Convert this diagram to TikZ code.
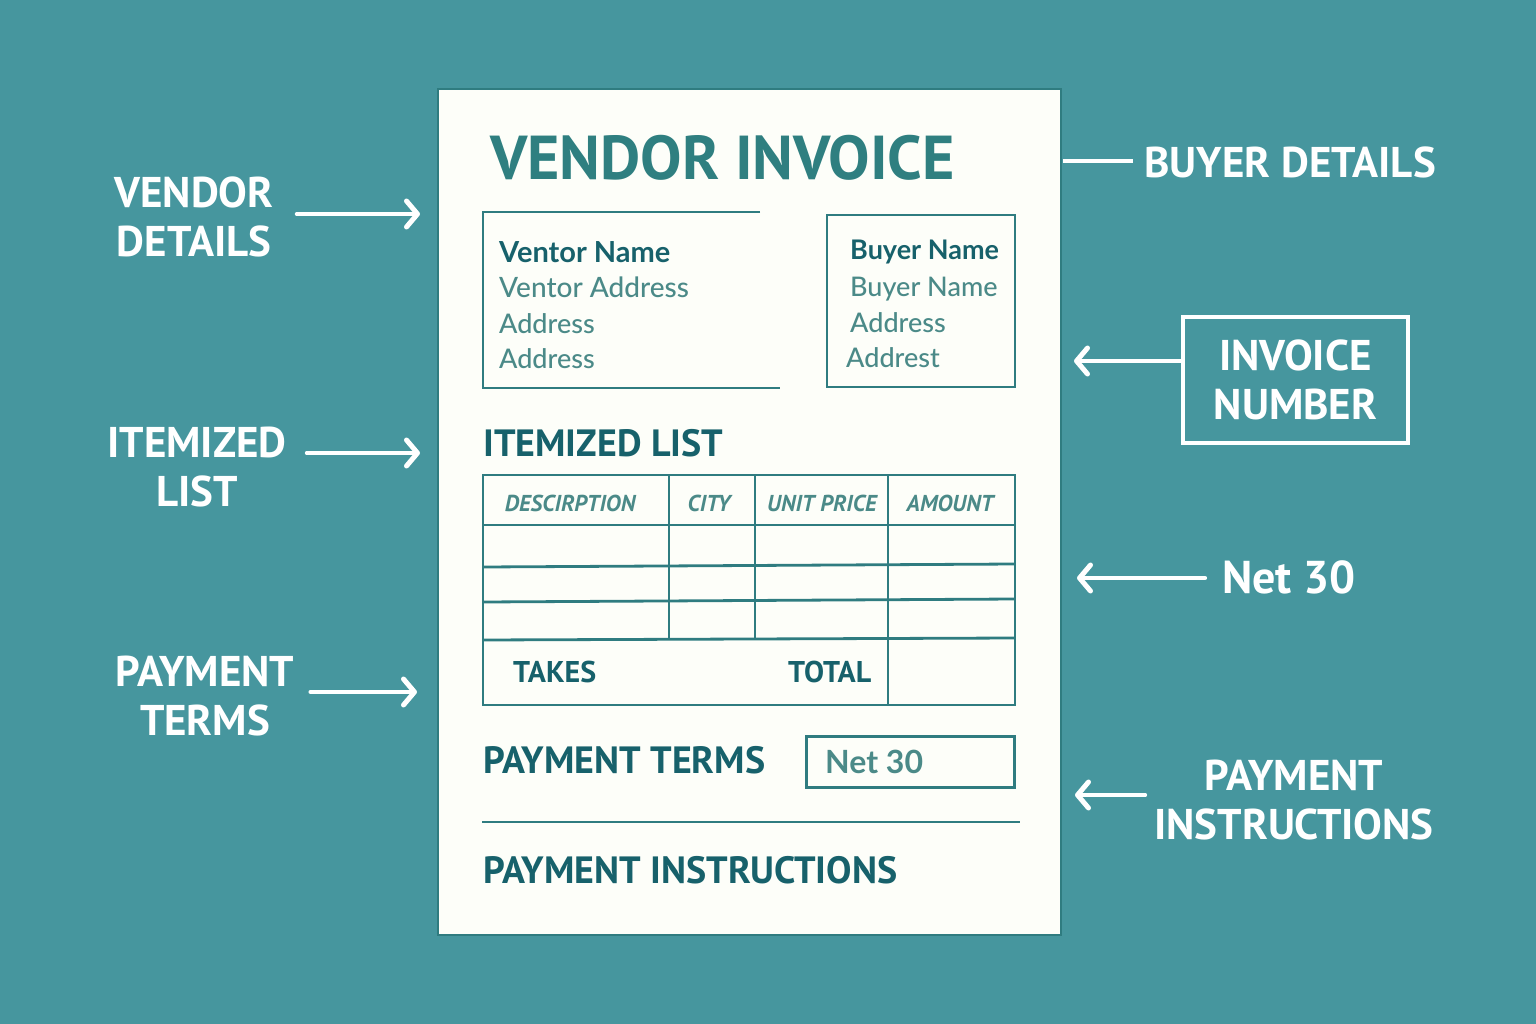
\documentclass[tikz,border=0pt]{standalone}
\usepackage{fontspec}
\usepackage{tikz}
\usetikzlibrary{arrows.meta}
\setmainfont{Lato}
\newfontfamily\labelfont{PT Sans}
\newfontfamily\addressfont{Lato Medium}
\definecolor{bgteal}{HTML}{46969E}
\definecolor{paperwhite}{HTML}{FDFEF9}
\definecolor{titleteal}{HTML}{2F7F80}
\definecolor{inkteal}{HTML}{2F7C80}
\definecolor{darkteal}{HTML}{17616B}
\definecolor{softteal}{HTML}{4B8A88}
\tikzset{
	sidelabel/.style={text=white,align=center,inner sep=0pt,font=\labelfont\bfseries\fontsize{43}{49}\selectfont},
	callout/.style={draw=white,line width=4pt,line cap=round,-{Straight Barb[length=11pt,width=26pt,line width=5pt,round]}},
	sideline/.style={draw=white,line width=4pt},
	inkline/.style={draw=inkteal,line width=2.8pt},
	heading/.style={anchor=base west,inner sep=0pt,text=darkteal,font=\labelfont\bfseries\fontsize{38}{38}\selectfont},
	colhead/.style={anchor=base,inner sep=0pt,text=softteal,font=\labelfont\bfseries\itshape\fontsize{23}{23}\selectfont},
	rowlabel/.style={anchor=base west,inner sep=0pt,text=darkteal,font=\labelfont\bfseries\fontsize{30}{30}\selectfont},
	namerow/.style={anchor=base west,inner sep=0pt,text=darkteal,font=\bfseries\fontsize{27}{27}\selectfont},
	addressrow/.style={anchor=base west,inner sep=0pt,text=softteal,font=\addressfont\fontsize{27}{27}\selectfont}
}
\begin{document}
\begin{tikzpicture}[x=1pt,y=-1pt]
	\useasboundingbox (0,0) rectangle (1536,1024);
	\fill[bgteal] (0,0) rectangle (1536,1024);

	% the sheet
	\node[draw=inkteal,line width=1.2pt,fill=paperwhite,minimum width=623pt,minimum height=846pt,inner sep=0pt] (sheet) at (749.5,512) {};
	\node[anchor=base west,inner sep=0pt,text=titleteal,font=\labelfont\bfseries\fontsize{62}{62}\selectfont] (invoicetitle) at (490,180) {VENDOR INVOICE};

	% vendor block, open at the right
	\draw[inkline] (760,212) -| (483,388) -- (780,388);
	\node[namerow,font=\bfseries\fontsize{29}{29}\selectfont] (vendorname) at (499,262) {Ventor Name};
	\node[addressrow,font=\addressfont\fontsize{28}{28}\selectfont] (vendoraddress) at (499,298) {Ventor Address};
	\node[addressrow] (vendoraddressb) at (499,333) {Address};
	\node[addressrow] (vendoraddressc) at (499,368) {Address};

	% buyer block
	\node[inkline,draw,minimum width=188pt,minimum height=172pt,inner sep=0pt] (buyerbox) at (921,301) {};
	\node[namerow] (buyername) at (850,260) {Buyer Name};
	\node[addressrow] (buyernameb) at (850,297) {Buyer Name};
	\node[addressrow] (buyeraddress) at (850,332) {Address};
	\node[addressrow] (buyeraddressb) at (846,367) {Addrest};

	% item table
	\node[heading] (itemizedhead) at (483,456) {ITEMIZED LIST};
	\draw[inkline] (483,475) rectangle (1015,705);
	\draw[inkline] (483,525) -- (1015,525);
	\draw[inkline] (483,567) -- (1015,564);
	\draw[inkline] (483,602) -- (1015,599);
	\draw[inkline] (483,640) -- (1015,638);
	\draw[inkline] (669,475) -- (669,640);
	\draw[inkline] (755,475) -- (755,640);
	\draw[inkline] (888,475) -- (888,705);
	\node[colhead] (descriptionhead) at (570,511) {DESCIRPTION};
	\node[colhead] (cityhead) at (709,511) {CITY};
	\node[colhead] (pricehead) at (822,511) {UNIT PRICE};
	\node[colhead] (amounthead) at (950,511) {AMOUNT};
	\node[rowlabel] (takesrow) at (513,682) {TAKES};
	\node[rowlabel] (totalrow) at (788,682) {TOTAL};

	% payment part
	\node[heading] (termshead) at (483,773) {PAYMENT TERMS};
	\node[inkline,draw,minimum width=208pt,minimum height=51pt,inner sep=0pt] (termsbox) at (910.5,762) {};
	\node[anchor=base west,inner sep=0pt,text=softteal,font=\bfseries\fontsize{32}{32}\selectfont] (termsvalue) at (825,773) {Net 30};
	\coordinate (rulestart) at (482,822);
	\coordinate (ruleend) at (1020,822);
	\draw[inkline] (rulestart) -- (ruleend);
	\node[heading] (instructionshead) at (483,883) {PAYMENT INSTRUCTIONS};

	% labels on the left
	\node[sidelabel] (vendordetails) at (194,217) {VENDOR\\DETAILS};
	\node[sidelabel] (itemizedlist) at (197,467) {ITEMIZED\\LIST};
	\node[sidelabel] (paymentterms) at (205,696) {PAYMENT\\TERMS};
	\coordinate (vendortip) at (420,214);
	\coordinate (itemizedtip) at (420,453);
	\coordinate (termstip) at (417,692);
	\draw[callout] ([xshift=23pt]vendordetails.east |- vendortip) -- (vendortip);
	\draw[callout] ([xshift=20pt]itemizedlist.east |- itemizedtip) -- (itemizedtip);
	\draw[callout] ([xshift=16pt]paymentterms.east |- termstip) -- (termstip);

	% labels on the right
	\node[sidelabel] (buyerdetails) at (1290,162) {BUYER DETAILS};
	\node[sidelabel,draw=white,line width=4pt,minimum width=225pt,minimum height=126pt] (invoicenumber) at (1295.5,380) {INVOICE\\NUMBER};
	\node[sidelabel,font=\labelfont\bfseries\fontsize{46}{49}\selectfont] (netlabel) at (1289,577) {Net 30};
	\node[sidelabel] (instructionslabel) at (1294,800) {PAYMENT\\INSTRUCTIONS};
	\coordinate (buyerstart) at (1063,161);
	\coordinate (invoicetip) at (1074,361);
	\coordinate (nettip) at (1077,578);
	\coordinate (instructionstip) at (1075,795);
	\draw[sideline] (buyerstart) -- ([xshift=-11pt]buyerdetails.west |- buyerstart);
	\draw[callout] (invoicenumber.west |- invoicetip) -- (invoicetip);
	\draw[callout] ([xshift=-17pt]netlabel.west |- nettip) -- (nettip);
	\draw[callout] ([xshift=-9pt]instructionslabel.west |- instructionstip) -- (instructionstip);
\end{tikzpicture}
\end{document}
